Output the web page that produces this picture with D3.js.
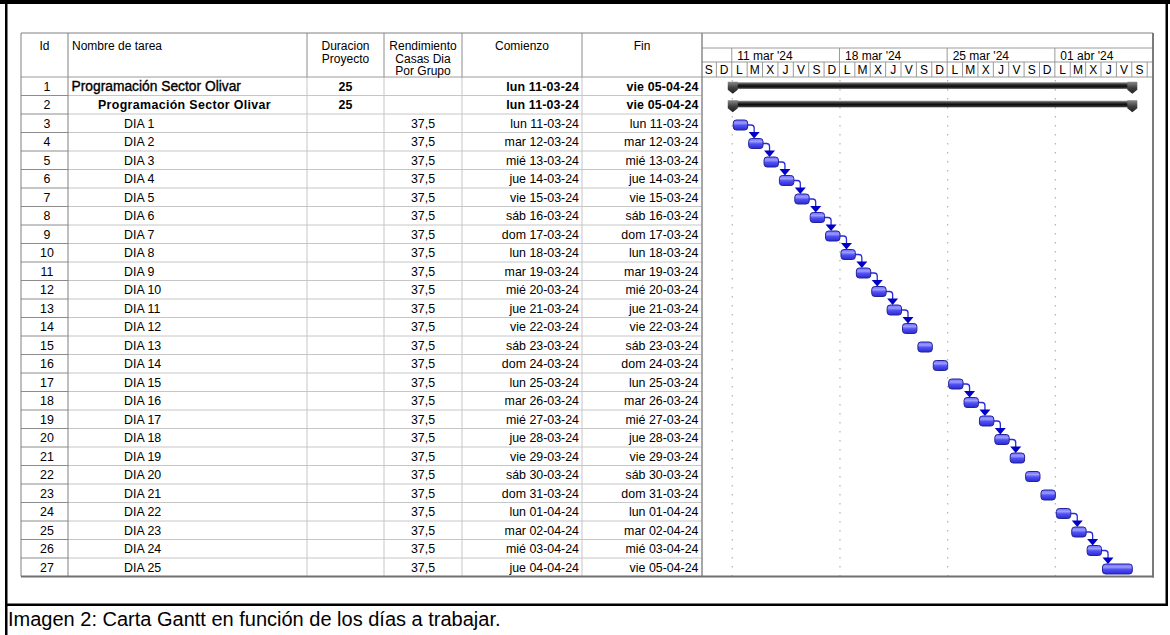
<!DOCTYPE html>
<html>
<head>
<meta charset="utf-8">
<script src="https://cdnjs.cloudflare.com/ajax/libs/d3/7.8.5/d3.min.js"></script>
<style>
  body { margin: 0; background: #fff; }
  svg { display: block; }
  text { font-family: "Liberation Sans", Arial, sans-serif; fill: #000; }
</style>
</head>
<body>
<div id="chart"></div>
<script>
// ---- data ----
const ids = [1,2,3,4,5,6,7,8,9,10,11,12,13,14,15,16,17,18,19,20,21,22,23,24,25,26,27];
const taskNames = ["Programación Sector Olivar","Programación Sector Olivar",
  "DIA 1","DIA 2","DIA 3","DIA 4","DIA 5","DIA 6","DIA 7","DIA 8","DIA 9","DIA 10",
  "DIA 11","DIA 12","DIA 13","DIA 14","DIA 15","DIA 16","DIA 17","DIA 18","DIA 19","DIA 20",
  "DIA 21","DIA 22","DIA 23","DIA 24","DIA 25"];
const levels = [0,1,2,2,2,2,2,2,2,2,2,2,2,2,2,2,2,2,2,2,2,2,2,2,2,2,2];
const duracion = ["25","25","","","","","","","","","","","","","","","","","","","","","","","","",""];
const rendimiento = ["","","37,5","37,5","37,5","37,5","37,5","37,5","37,5","37,5","37,5","37,5","37,5",
  "37,5","37,5","37,5","37,5","37,5","37,5","37,5","37,5","37,5","37,5","37,5","37,5","37,5","37,5"];
const comienzo = ["2024-03-11","2024-03-11","2024-03-11","2024-03-12","2024-03-13","2024-03-14","2024-03-15",
  "2024-03-16","2024-03-17","2024-03-18","2024-03-19","2024-03-20","2024-03-21","2024-03-22","2024-03-23",
  "2024-03-24","2024-03-25","2024-03-26","2024-03-27","2024-03-28","2024-03-29","2024-03-30","2024-03-31",
  "2024-04-01","2024-04-02","2024-04-03","2024-04-04"];
const fin = ["2024-04-05","2024-04-05","2024-03-11","2024-03-12","2024-03-13","2024-03-14","2024-03-15",
  "2024-03-16","2024-03-17","2024-03-18","2024-03-19","2024-03-20","2024-03-21","2024-03-22","2024-03-23",
  "2024-03-24","2024-03-25","2024-03-26","2024-03-27","2024-03-28","2024-03-29","2024-03-30","2024-03-31",
  "2024-04-01","2024-04-02","2024-04-03","2024-04-05"];
// predecessor -> successor (by Id)
const links = [[3,4],[4,5],[5,6],[6,7],[7,8],[8,9],[9,10],[10,11],[11,12],[12,13],[13,14],
  [17,18],[18,19],[19,20],[20,21],[24,25],[25,26],[26,27]];
const dayLetters = ["D","L","M","X","J","V","S"];
const timelineStart = "2024-03-09", timelineEnd = "2024-04-06";
const caption = "Imagen 2: Carta Gantt en función de los días a trabajar.";

// ---- setup ----
const W = 1170, H = 635;
const parse = d3.utcParse("%Y-%m-%d");
const es = d3.timeFormatLocale({
  dateTime: "%A, %e de %B de %Y, %X", date: "%d/%m/%Y", time: "%H:%M:%S", periods: ["AM","PM"],
  days: ["domingo","lunes","martes","miércoles","jueves","viernes","sábado"],
  shortDays: ["dom","lun","mar","mié","jue","vie","sáb"],
  months: ["enero","febrero","marzo","abril","mayo","junio","julio","agosto","septiembre","octubre","noviembre","diciembre"],
  shortMonths: ["ene","feb","mar","abr","may","jun","jul","ago","sep","oct","nov","dic"]
});
const fmtCell = es.utcFormat("%a %d-%m-%y");
const fmtWeek = es.utcFormat("%d %b '%y");

const tasks = ids.map((id, i) => ({
  id: id, name: taskNames[i], level: levels[i], dur: duracion[i], rend: rendimiento[i],
  start: parse(comienzo[i]), end: parse(fin[i]), summary: levels[i] < 2
}));
const byId = new Map(tasks.map(d => [d.id, d]));

const tableLeft = 21, headTop = 33, headBottom = 77, bodyBottom = 576.5;
const ganttLeft = 702, ganttRight = 1153;
const cols = [
  {x0: 21,  x1: 68,  title: ["Id"]},
  {x0: 68,  x1: 307, title: ["Nombre de tarea"], left: true},
  {x0: 307, x1: 384, title: ["Duracion","Proyecto"]},
  {x0: 384, x1: 462, title: ["Rendimiento","Casas Dia","Por Grupo"]},
  {x0: 462, x1: 582, title: ["Comienzo"]},
  {x0: 582, x1: 702, title: ["Fin"]}
];

const y = d3.scaleBand().domain(ids).range([headBottom, bodyBottom]);
const rh = y.bandwidth();
const x = d3.scaleUtc().domain([parse(timelineStart), parse(timelineEnd)]).range([701, 1131.8]);

const svg = d3.select("#chart").append("svg").attr("width", W).attr("height", H);
svg.append("rect").attr("width", W).attr("height", H).attr("fill", "#fff");

const defs = svg.append("defs");
function grad(id, stops) {
  const g = defs.append("linearGradient").attr("id", id)
    .attr("x1", 0).attr("y1", 0).attr("x2", 0).attr("y2", 1);
  stops.forEach(s => g.append("stop").attr("offset", s[0]).attr("stop-color", s[1]));
}
grad("gBlue", [[0, "#6a6aff"], [0.3, "#9c9cff"], [0.55, "#5050f4"], [1, "#2a2ad2"]]);
grad("gSum", [[0, "#a0a0a0"], [0.3, "#3a3a3a"], [0.6, "#0c0c0c"], [1, "#454545"]]);
grad("gCap", [[0, "#8a8a8a"], [0.5, "#404040"], [1, "#202020"]]);
defs.append("clipPath").attr("id", "ganttClip").append("rect")
  .attr("x", ganttLeft).attr("y", headTop).attr("width", ganttRight - ganttLeft).attr("height", bodyBottom - headTop);

// ---- table grid ----
const grid = svg.append("g");
// row lines
grid.selectAll(".rowline").data(ids).enter().append("line")
  .attr("x1", 68).attr("x2", ganttLeft)
  .attr("y1", d => y(d) + rh).attr("y2", d => y(d) + rh)
  .attr("stroke", "#c6c6c6").attr("stroke-width", 1);
grid.selectAll(".idline").data(ids).enter().append("line")
  .attr("x1", tableLeft).attr("x2", 68)
  .attr("y1", d => y(d) + rh).attr("y2", d => y(d) + rh)
  .attr("stroke", "#8c8c8c").attr("stroke-width", 1);
// column lines
grid.selectAll(".colline").data(cols.slice(1)).enter().append("line")
  .attr("x1", d => d.x0).attr("x2", d => d.x0)
  .attr("y1", headTop).attr("y2", bodyBottom)
  .attr("stroke", (d, i) => i === 0 ? "#808080" : "#c6c6c6");
grid.selectAll(".headcol").data(cols.slice(2)).enter().append("line")
  .attr("x1", d => d.x0).attr("x2", d => d.x0)
  .attr("y1", headTop).attr("y2", headBottom)
  .attr("stroke", "#a8a8a8");
grid.append("line").attr("x1", tableLeft).attr("x2", ganttRight)
  .attr("y1", headBottom).attr("y2", headBottom).attr("stroke", "#9a9a9a");

// header texts
cols.forEach(c => {
  const t = svg.append("text").attr("font-size", 12)
    .attr("text-anchor", c.left ? "start" : "middle")
    .attr("x", c.left ? c.x0 + 4 : (c.x0 + c.x1) / 2);
  c.title.forEach((s, i) => t.append("tspan")
    .attr("x", c.left ? c.x0 + 4 : (c.x0 + c.x1) / 2)
    .attr("y", 50 + i * 12.7).text(s));
});

// cell texts
const cells = svg.append("g");
const indent = [71.5, 98, 124];
const rows = cells.selectAll(".row").data(tasks).enter().append("g")
  .attr("transform", d => "translate(0," + (y(d.id) + 13.6) + ")");
rows.append("text").attr("x", 47).attr("text-anchor", "middle").attr("font-size", 12.4)
  .text(d => d.id);
rows.append("text").attr("x", d => indent[d.level])
  .attr("font-size", d => d.level === 0 ? 13.8 : 12.4)
  .attr("font-weight", d => d.level === 1 ? "bold" : "normal")
  .attr("letter-spacing", d => d.level === 1 ? 0.35 : 0)
  .attr("stroke", d => d.level === 0 ? "#000" : "none").attr("stroke-width", 0.35)
  .text(d => d.name);
rows.append("text").attr("x", 345.5).attr("text-anchor", "middle").attr("font-size", 12.4)
  .attr("font-weight", "bold").text(d => d.dur);
rows.append("text").attr("x", 423).attr("text-anchor", "middle").attr("font-size", 12.4)
  .text(d => d.rend);
rows.append("text").attr("x", 579).attr("text-anchor", "end").attr("font-size", 12.4)
  .attr("font-weight", d => d.summary ? "bold" : "normal")
  .attr("letter-spacing", d => d.summary ? 0.15 : 0)
  .text(d => fmtCell(d.start));
rows.append("text").attr("x", 698.5).attr("text-anchor", "end").attr("font-size", 12.4)
  .attr("font-weight", d => d.summary ? "bold" : "normal")
  .attr("letter-spacing", d => d.summary ? 0.15 : 0)
  .text(d => fmtCell(d.end));

// ---- gantt timescale ----
const gantt = svg.append("g").attr("clip-path", "url(#ganttClip)");
const days = d3.utcDay.range(parse(timelineStart), d3.utcDay.offset(parse(timelineEnd), 2));
const mondays = d3.utcMonday.range(parse(timelineStart), d3.utcDay.offset(parse(timelineEnd), 2));
const dayMid = d => (x(d) + x(d3.utcDay.offset(d, 1))) / 2;

gantt.append("line").attr("x1", ganttLeft).attr("x2", ganttRight).attr("y1", 48).attr("y2", 48).attr("stroke", "#9a9a9a");
gantt.append("line").attr("x1", ganttLeft).attr("x2", ganttRight).attr("y1", 62).attr("y2", 62).attr("stroke", "#9a9a9a");
gantt.selectAll(".weekline").data(mondays).enter().append("line")
  .attr("x1", d => x(d)).attr("x2", d => x(d)).attr("y1", 48).attr("y2", 62).attr("stroke", "#9a9a9a");
gantt.selectAll(".weeklabel").data(mondays).enter().append("text")
  .attr("x", d => x(d) + 5.5).attr("y", 60).attr("font-size", 12).text(d => fmtWeek(d));
gantt.selectAll(".dayline").data(days).enter().append("line")
  .attr("x1", d => x(d)).attr("x2", d => x(d)).attr("y1", 62).attr("y2", 77).attr("stroke", "#9a9a9a");
gantt.selectAll(".daylabel").data(days.filter(d => dayMid(d) < ganttRight)).enter().append("text")
  .attr("x", dayMid).attr("y", 74).attr("font-size", 12)
  .attr("text-anchor", "middle").text(d => dayLetters[d.getUTCDay()]);

// dotted weekly gridlines
gantt.selectAll(".grid").data(mondays).enter().append("line")
  .attr("x1", d => x(d) + 0.5).attr("x2", d => x(d) + 0.5)
  .attr("y1", headBottom + 3).attr("y2", bodyBottom)
  .attr("stroke", "#b4b4b4").attr("stroke-width", 1.2).attr("stroke-dasharray", "1.5,7.5");

// summary bars
const sumTasks = tasks.filter(d => d.summary);
const sums = gantt.selectAll(".sum").data(sumTasks).enter().append("g");
sums.append("rect")
  .attr("x", d => x(d.start)).attr("width", d => x(d3.utcDay.offset(d.end, 1)) - x(d.start))
  .attr("y", d => y(d.id) + 5.2).attr("height", 6.6).attr("fill", "url(#gSum)");
function cap(cx, top) {
  return "M" + (cx - 5) + "," + (top - 0.5) + "H" + (cx + 5) + "V" + (top + 7.5) +
    "L" + cx + "," + (top + 11.5) + "L" + (cx - 5) + "," + (top + 7.5) + "Z";
}
sums.append("path").attr("d", d => cap(x(d.start) + 1, y(d.id) + 5.2)).attr("fill", "url(#gCap)");
sums.append("path").attr("d", d => cap(x(d3.utcDay.offset(d.end, 1)) + 0.5, y(d.id) + 5.2)).attr("fill", "url(#gCap)");

// links
const linkG = gantt.append("g");
links.forEach(l => {
  const a = byId.get(l[0]), b = byId.get(l[1]);
  const x1 = x(d3.utcDay.offset(a.end, 1)) + 0.5, y1 = y(a.id) + 11;
  const ax = x(b.start) + 7, yb = y(b.id) + 6;
  linkG.append("path")
    .attr("d", "M" + x1 + "," + y1 + "H" + (ax - 3) + "Q" + ax + "," + y1 + " " + ax + "," + (y1 + 3) + "V" + (yb - 5))
    .attr("fill", "none").attr("stroke", "#2a2ad8").attr("stroke-width", 1.3);
  linkG.append("path")
    .attr("d", "M" + (ax - 5.5) + "," + (yb - 6.5) + "H" + (ax + 5.5) + "L" + ax + "," + yb + "Z")
    .attr("fill", "#0000c8");
});

// task bars
gantt.selectAll(".bar").data(tasks.filter(d => !d.summary)).enter().append("rect")
  .attr("x", d => x(d.start) + 1.5)
  .attr("width", d => x(d3.utcDay.offset(d.end, 1)) - x(d.start) - 1)
  .attr("y", d => y(d.id) + 6).attr("height", 10)
  .attr("rx", 3).attr("ry", 3)
  .attr("fill", "url(#gBlue)").attr("stroke", "#23239a").attr("stroke-width", 1);

// ---- outer borders ----
const border = svg.append("g");
border.append("line").attr("x1", tableLeft).attr("x2", ganttRight).attr("y1", headTop).attr("y2", headTop).attr("stroke", "#808080");
border.append("line").attr("x1", tableLeft).attr("x2", tableLeft).attr("y1", headTop).attr("y2", bodyBottom).attr("stroke", "#808080");
border.append("line").attr("x1", ganttLeft).attr("x2", ganttLeft).attr("y1", headTop).attr("y2", bodyBottom).attr("stroke", "#8a8a8a").attr("stroke-width", 1.5);
border.append("line").attr("x1", ganttRight).attr("x2", ganttRight).attr("y1", headTop).attr("y2", bodyBottom + 1).attr("stroke", "#7a7a7a").attr("stroke-width", 2);
border.append("line").attr("x1", tableLeft).attr("x2", ganttRight + 1).attr("y1", bodyBottom).attr("y2", bodyBottom).attr("stroke", "#707070").attr("stroke-width", 2);

// page frame and caption
svg.append("rect").attr("x", 0).attr("y", 0).attr("width", W).attr("height", 4).attr("fill", "#000");
svg.append("rect").attr("x", 5).attr("y", 0).attr("width", 2.5).attr("height", H).attr("fill", "#000");
svg.append("rect").attr("x", 1165.5).attr("y", 0).attr("width", 2.5).attr("height", 605).attr("fill", "#000");
svg.append("rect").attr("x", 5).attr("y", 603.5).attr("width", 1163).attr("height", 2.5).attr("fill", "#000");
svg.append("text").attr("x", 8).attr("y", 626).attr("font-size", 20).text(caption);
</script>
</body>
</html>
